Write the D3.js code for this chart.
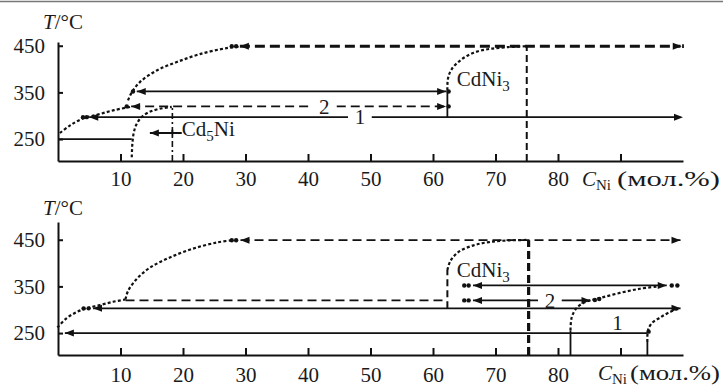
<!DOCTYPE html>
<meta charset="utf-8">
<style>
body { margin: 0; background: #fff; }
svg { font-family: "Liberation Serif", "Times New Roman", "DejaVu Serif", serif; }
.axis path, .axis line { stroke: #111; stroke-width: 2; }
.axis text { font-size: 21px; fill: #1a1a1a; font-family: "Liberation Serif", "Times New Roman", serif; }
.solid { fill: none; stroke: #111; stroke-width: 1.8; }
.dashed { fill: none; stroke: #111; stroke-width: 1.8; stroke-dasharray: 9,5; }
.thick { fill: none; stroke: #111; stroke-width: 3; stroke-dasharray: 10,5; }
.vdash { fill: none; stroke: #111; stroke-width: 2; stroke-dasharray: 7,4; }
.vthick { fill: none; stroke: #111; stroke-width: 3.2; stroke-dasharray: 8,4; }
.dashdot { fill: none; stroke: #111; stroke-width: 1.6; stroke-dasharray: 6,3,2,3; }
.dotted { fill: none; stroke: #111; stroke-width: 2.2; stroke-dasharray: 3,2.2; }
.lbl { font-size: 21px; fill: #1a1a1a; font-family: "Liberation Serif", "Times New Roman", serif; }
</style>
<svg width="723" height="386"></svg>

<script src="https://d3js.org/d3.v7.min.js"></script>
<script>

var xTicks = [10, 20, 30, 40, 50, 60, 70, 80, 90];
var yTicks = [250, 350, 450];

// верхняя панель: [C1, C2, T]
var topSolid = [[0, 11.8, 250], [5.0, 46.4, 297], [50.2, 99.6, 297], [12.6, 62.1, 352], [14.7, 19.8, 263]];
var topDashed = [[11.7, 40.6, 320], [44.6, 62.1, 320]];
var topThick = [[29.1, 99.6, 449]];
// вертикали: [C, T1, T2]
var topVSolid = [[62.3, 297, 355], [18.3, 256, 270], [100, 445, 453]];
var topVDashed = [[75, 203, 449]];
var topVDashDot = [[18.3, 203, 320]];
var topCurves = [
  [[0.3, 263], [2, 280], [4, 294], [6.5, 303], [9, 312], [11.6, 319]],
  [[11.8, 211], [11.9, 240], [12.1, 262], [12.5, 280], [13.3, 296], [14.6, 308], [16.3, 315], [18.2, 319]],
  [[11.2, 333], [11.8, 350], [13.1, 372], [15.8, 397], [19, 415], [22.7, 432], [27, 445], [29, 448]],
  [[62.3, 355], [62.4, 380], [63, 400], [64.5, 420], [66.5, 435], [69, 443], [72, 447], [75, 449]]
];
// стрелки: [C, T, направление]
var topArrows = [[5.0, 297, -1], [100, 297, 1], [12.6, 352, -1], [62.1, 352, 1], [11.7, 320, -1],
  [62.1, 320, 1], [29.1, 449, -1], [99.8, 449, 1], [14.7, 263, -1]];
var topDots = [[4.0, 297], [4.6, 297], [12.0, 352], [62.5, 352], [62.5, 320], [11.0, 320], [27.8, 449], [28.5, 449]];
var topLabels = [[48.3, 297, "1"], [42.6, 320, "2"]];
var topNames = [[19.8, 256, "Cd", "5", "Ni"], [63.8, 363, "CdNi", "3", ""]];

// нижняя панель
var botSolid = [[1.1, 94.3, 250], [5.6, 99.6, 303], [66.4, 76.8, 320], [80.6, 85.2, 320], [66.4, 97.4, 352]];
var botDashed = [[10.8, 61.6, 320], [29.2, 99.6, 449]];
var botVSolid = [[82, 203, 256], [94.3, 203, 231]];
var botVDashed = [[62.3, 303, 385]];
var botVThick = [[75.3, 203, 449]];
var botCurves = [
  [[-0.1, 262], [1.4, 282], [3, 295], [4.5, 303], [6.7, 310], [8.8, 317], [10.8, 322]],
  [[10.8, 322], [11.2, 340], [12.6, 366], [14.7, 390], [17.9, 412], [21.6, 431], [25.4, 444], [28, 449]],
  [[62.3, 385], [62.8, 405], [64.2, 425], [66.5, 438], [69, 445], [72, 448.5], [75.3, 449.6]],
  [[82, 256], [82.2, 284], [83, 304], [84.3, 316], [86.7, 325], [89.9, 336], [93.1, 345], [96, 350]],
  [[94.3, 231], [94.4, 256], [95, 271], [96.3, 283], [97.9, 295], [99.6, 303]]
];
var botArrows = [[1.1, 250, -1], [5.6, 303, -1], [99.6, 303, 1], [29.2, 449, -1], [99.6, 449, 1],
  [66.4, 352, -1], [97.4, 352, 1], [66.4, 320, -1], [85.2, 320, 1]];
var botDots = [[4.1, 303], [4.9, 303], [27.8, 449], [28.5, 449], [65.0, 352], [65.7, 352], [98.2, 352], [99.1, 352],
  [65.0, 320], [65.7, 320], [85.9, 321], [86.6, 323], [94.5, 253]];
var botLabels = [[78.7, 320, "2"], [89.5, 271, "1"]];
var botNames = [[63.8, 370, "CdNi", "3", ""]];

var svg = d3.select("svg");

// рамка сверху
svg.append("line").attr("x1", 0).attr("x2", 723).attr("y1", 1.5).attr("y2", 1.5)
  .attr("stroke", "#777").attr("stroke-width", 1.5);

var x = d3.scaleLinear().domain([0, 100]).range([58, 683]);
var yTop = d3.scaleLinear().domain([203, 458]).range([161, 42]);
var yBot = d3.scaleLinear().domain([203, 488]).range([355, 222]);

function panel(y, p) {
  var g = svg.append("g");
  var base = y.range()[0];

  g.append("g").attr("class", "axis").attr("transform", "translate(0," + base + ")")
    .call(d3.axisBottom(x).tickValues(xTicks).tickSizeInner(-7).tickSizeOuter(0)
      .tickPadding(p.pad).tickFormat(d => d == 90 ? "" : d));
  g.append("g").attr("class", "axis").attr("transform", "translate(" + x(0) + ",0)")
    .call(d3.axisLeft(y).tickValues(yTicks).tickSizeInner(-5).tickSizeOuter(0).tickPadding(13));
  g.selectAll(".axis").attr("font-family", null);

  var seg = (rows, cls) => g.selectAll(null).data(rows).enter().append("line")
    .attr("class", cls)
    .attr("x1", d => x(d[0])).attr("x2", d => x(d[1]))
    .attr("y1", d => y(d[2])).attr("y2", d => y(d[2]));
  var vert = (rows, cls) => g.selectAll(null).data(rows).enter().append("line")
    .attr("class", cls)
    .attr("x1", d => x(d[0])).attr("x2", d => x(d[0]))
    .attr("y1", d => y(d[1])).attr("y2", d => y(d[2]));

  seg(p.solid, "solid");
  seg(p.dashed, "dashed");
  seg(p.thick, "thick");
  vert(p.vsolid, "solid");
  vert(p.vdashed, "vdash");
  vert(p.vthick, "vthick");
  vert(p.vdashdot, "dashdot");

  var line = d3.line().x(d => x(d[0])).y(d => y(d[1])).curve(d3.curveCatmullRom.alpha(0.5));
  g.selectAll(null).data(p.curves).enter().append("path")
    .attr("class", "dotted").attr("d", line);

  g.selectAll(null).data(p.arrows).enter().append("path")
    .attr("fill", "#111")
    .attr("d", d => {
      var px = x(d[0]), py = y(d[1]), s = d[2];
      return "M" + px + "," + py + "L" + (px - s * 9) + "," + (py - 3.5) + "L" + (px - s * 9) + "," + (py + 3.5) + "Z";
    });
  g.selectAll(null).data(p.dots).enter().append("circle")
    .attr("fill", "#111").attr("r", 2.2)
    .attr("cx", d => x(d[0])).attr("cy", d => y(d[1]));

  g.selectAll(null).data(p.labels).enter().append("text")
    .attr("class", "lbl").attr("text-anchor", "middle").attr("dy", "0.34em")
    .attr("x", d => x(d[0])).attr("y", d => y(d[1])).text(d => d[2]);

  var names = g.selectAll(null).data(p.names).enter().append("text")
    .attr("class", "lbl").attr("x", d => x(d[0])).attr("y", d => y(d[1]));
  names.append("tspan").text(d => d[2]);
  names.append("tspan").attr("dy", 5).attr("font-size", 15).text(d => d[3]);
  names.append("tspan").attr("dy", -5).text(d => d[4]);

  // подписи осей
  var t = g.append("text").attr("class", "lbl").attr("x", 43).attr("y", p.tY);
  t.append("tspan").attr("font-style", "italic").text("T");
  t.append("tspan").text("/°C");

  var c = g.append("text").attr("class", "lbl").attr("x", p.cX).attr("y", p.cY);
  c.append("tspan").attr("font-style", "italic").text("C");
  c.append("tspan").attr("dy", 4).attr("font-size", 15).text("Ni");
  g.append("text").attr("class", "lbl").attr("x", p.uX).attr("y", p.cY)
    .attr("textLength", 720 - p.uX).attr("lengthAdjust", "spacingAndGlyphs").text("(мол.%)");
}

panel(yTop, {
  solid: topSolid, dashed: topDashed, thick: topThick, vsolid: topVSolid, vdashed: topVDashed,
  vthick: [], vdashdot: topVDashDot, curves: topCurves, arrows: topArrows, dots: topDots,
  labels: topLabels, names: topNames, pad: 10, tY: 29, cX: 582, cY: 186, uX: 617
});
panel(yBot, {
  solid: botSolid, dashed: botDashed, thick: [], vsolid: botVSolid, vdashed: botVDashed,
  vthick: botVThick, vdashdot: [], curves: botCurves, arrows: botArrows, dots: botDots,
  labels: botLabels, names: botNames, pad: 12, tY: 215, cX: 598, cY: 380, uX: 630
});

</script>
